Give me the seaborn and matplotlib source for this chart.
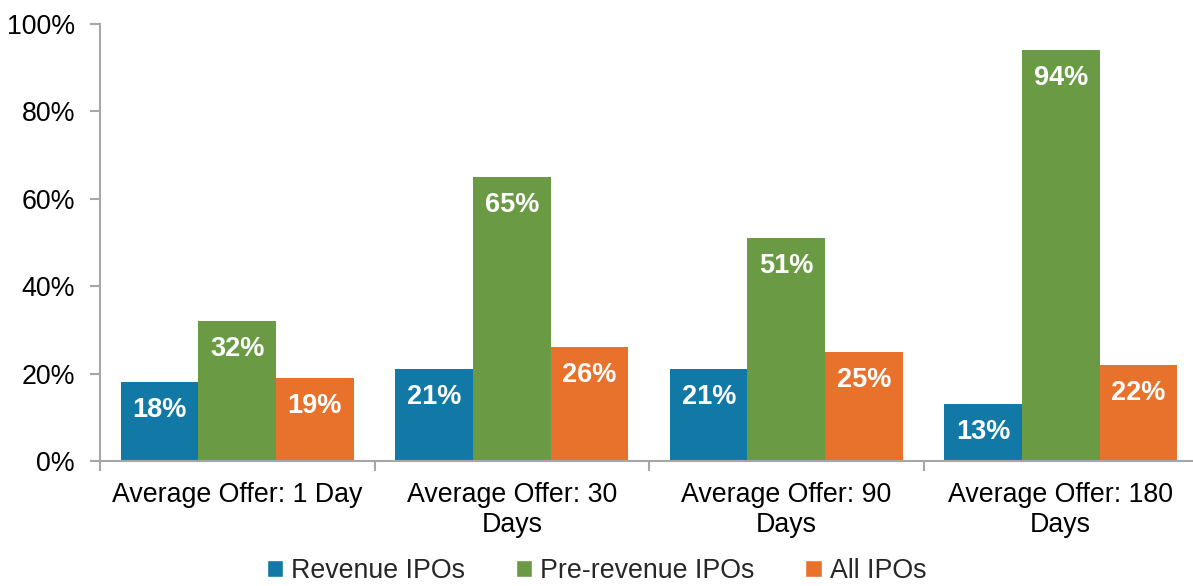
import matplotlib
matplotlib.use("Agg")
import matplotlib.pyplot as plt
import seaborn as sns
import pandas as pd
from matplotlib.ticker import FuncFormatter, FixedLocator

categories = ["Average Offer: 1 Day", "Average Offer: 30\nDays", "Average Offer: 90\nDays", "Average Offer: 180\nDays"]
series = ["Revenue IPOs", "Pre-revenue IPOs", "All IPOs"]
revenue = [18, 21, 21, 13]
pre_revenue = [32, 65, 51, 94]
all_ipos = [19, 26, 25, 22]
colors = ["#1279A6", "#6A9B44", "#E8722C"]

rows = []
for s, vals in zip(series, [revenue, pre_revenue, all_ipos]):
    for c, v in zip(categories, vals):
        rows.append({"cat": c, "series": s, "val": v})
df = pd.DataFrame(rows)

sns.set_theme(style="white")
plt.rcParams["font.family"] = ["Liberation Sans", "DejaVu Sans"]

fig = plt.figure(figsize=(11.93, 5.86), dpi=100)
ax = fig.add_axes([100/1193, 1-461/586, 1098/1193, (461-24)/586])

sns.barplot(data=df, x="cat", y="val", hue="series", palette=colors,
            saturation=1, width=0.847, gap=0, ax=ax, legend=True)

for cont in ax.containers:
    for p in cont.patches:
        p.set_edgecolor("none")
        h = p.get_height()
        ax.annotate(f"{h:.0f}%", (p.get_x() + p.get_width()/2, h),
                    xytext=(0, -20), textcoords="offset points",
                    ha="center", va="center", color="white",
                    fontsize=19.5, fontweight="bold")

ax.set_xlim(-0.5, 3.5)
ax.set_ylim(0, 100)
ax.set_yticks([0, 20, 40, 60, 80, 100])
ax.yaxis.set_major_formatter(FuncFormatter(lambda v, _: f"{v:.0f}%"))
ax.set_xlabel("")
ax.set_ylabel("")
ax.tick_params(axis="x", which="major", length=0, labelsize=19.3, pad=15, colors="black")
ax.xaxis.set_minor_locator(FixedLocator([-0.5, 0.5, 1.5, 2.5, 3.5]))
ax.tick_params(axis="x", which="minor", length=7, width=1.5, color="#A6A6A6", direction="out", bottom=True)
ax.tick_params(axis="y", length=7, width=1.5, color="#A6A6A6", direction="out", left=True, labelsize=19.3, pad=11, labelcolor="black")
for lbl in ax.get_xticklabels():
    lbl.set_linespacing(1.2)

for side in ["top", "right"]:
    ax.spines[side].set_visible(False)
for side in ["left", "bottom"]:
    ax.spines[side].set_color("#A6A6A6")
    ax.spines[side].set_linewidth(1.5)

ax.get_legend().remove()
handles, labels = ax.get_legend_handles_labels()
fig.legend(handles, labels, loc="center", bbox_to_anchor=(0.5, 1-571/586), ncol=3,
           frameon=False, fontsize=19.3, handlelength=0.6, handleheight=0.6,
           handletextpad=0.3, columnspacing=1.9, borderaxespad=0)

fig.savefig("out.png", dpi=100)
